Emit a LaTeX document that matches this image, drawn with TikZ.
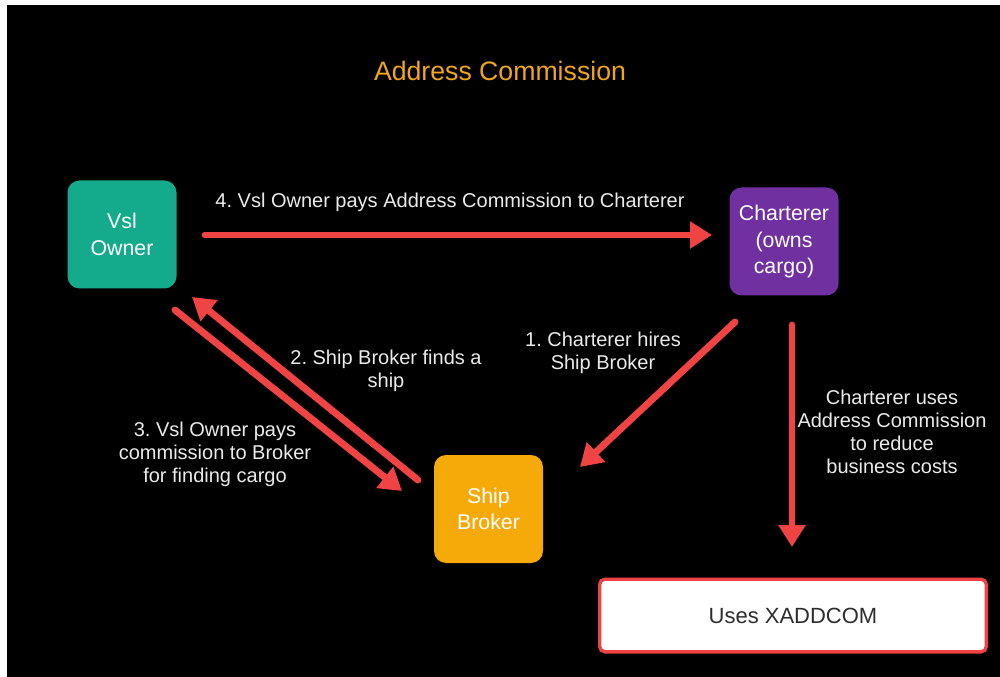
\documentclass[tikz,border=0pt]{standalone}
\usepackage{fontspec}
\setmainfont{Liberation Sans}
\usetikzlibrary{arrows.meta}
\definecolor{tealbox}{RGB}{20,170,140}
\definecolor{purpbox}{RGB}{112,48,160}
\definecolor{orngbox}{RGB}{245,170,10}
\definecolor{arrred}{RGB}{240,68,68}
\definecolor{titleor}{RGB}{240,165,30}
\definecolor{lbl}{RGB}{235,235,235}
\definecolor{dgray}{RGB}{45,45,45}
\frenchspacing
\begin{document}
\begin{tikzpicture}[x=0.75pt,y=-0.75pt,
  box/.style={rounded corners=9pt, minimum width=81.75pt, minimum height=81pt,
    align=center, text=white, inner sep=0pt, font=\fontsize{16}{20}\selectfont},
  lab/.style={align=center, text=lbl, inner sep=0pt, font=\fontsize{15}{17.25}\selectfont},
  arr/.style={draw=arrred, line width=5.2pt, line cap=round, -{Triangle[width=19.5pt,length=16.5pt]}}]
\useasboundingbox (0,0) rectangle (1000,677);
\fill[white] (0,0) rectangle (1000,677);
\fill[black] (7,5) rectangle (1000,677);

\node[text=titleor, font=\fontsize{20}{24}\selectfont] (title) at (500,71) {Address Commission};

\node[box, fill=tealbox] (vsl) at (122,234.5) {Vsl\\Owner};
\node[box, fill=purpbox] (chart) at (784,241.5) {Charterer\\(owns\\cargo)};
\node[box, fill=orngbox] (broker) at (488.5,509) {Ship\\Broker};
\node[draw=arrred, line width=2.5pt, fill=white, rounded corners=4pt,
  minimum width=290pt, minimum height=54.5pt, inner sep=0pt,
  text=dgray, font=\fontsize{16.5}{20}\selectfont] (uses) at (793,615.5) {Uses XADDCOM};

\node[lab] (l4) at (450,202) {4. Vsl Owner pays Address Commission to Charterer};
\node[lab] (l2) at (386,371) {2. Ship Broker finds a\\ship};
\node[lab] (l1) at (603,353) {1. Charterer hires\\Ship Broker};
\node[lab] (l3) at (215,454) {3. Vsl Owner pays\\commission to Broker\\for finding cargo};
\node[lab] (lc) at (892,432) {Charterer uses\\Address Commission\\to reduce\\business costs};

\coordinate (a4s) at (205,235);
\coordinate (a4e) at (712,235);
\coordinate (a2s) at (418,480);
\coordinate (a2e) at (192,297);
\coordinate (a3s) at (175,310);
\coordinate (a3e) at (402,491);
\coordinate (a1s) at (735,322);
\coordinate (a1e) at (580,467);
\coordinate (a5s) at (792,325);
\coordinate (a5e) at (792,547);

\draw[arr] (a4s) -- (a4e);
\draw[arr] (a2s) -- (a2e);
\draw[arr] (a3s) -- (a3e);
\draw[arr] (a1s) -- (a1e);
\draw[arr] (a5s) -- (a5e);
\end{tikzpicture}
\end{document}
